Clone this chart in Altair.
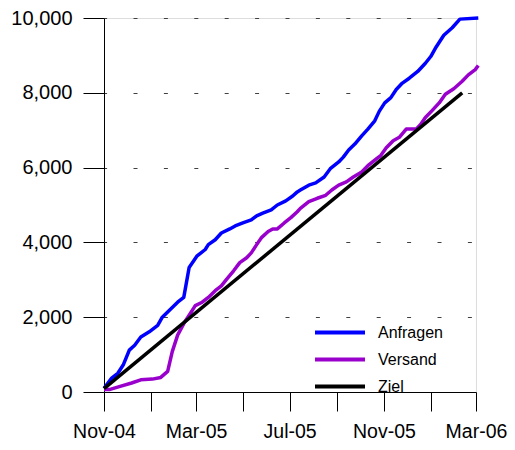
import altair as alt
import pandas as pd

# Day offsets from 1 Nov 2004 and cumulative counts
anfragen_days = [0, 10, 18, 25, 33, 40, 48, 59, 70, 76,
                 85, 96, 104, 111, 121, 132, 136, 145, 153, 164,
                 171, 181, 192, 199, 207, 218, 226, 237, 246, 252,
                 256, 267, 276, 287, 295, 306, 312, 319, 327, 336,
                 344, 353, 359, 366, 374, 381, 389, 398, 409, 419,
                 426, 432, 443, 454, 464, 488]
anfragen_vals = [100, 370, 500, 720, 1120, 1250, 1470, 1610, 1780, 2000,
                 2180, 2400, 2530, 3330, 3630, 3810, 3940, 4070, 4250, 4360,
                 4440, 4520, 4600, 4710, 4780, 4870, 5000, 5110, 5240, 5350,
                 5400, 5530, 5590, 5750, 5970, 6150, 6280, 6470, 6630, 6850,
                 7030, 7250, 7510, 7730, 7870, 8090, 8260, 8390, 8570, 8790,
                 8970, 9190, 9540, 9740, 9970, 10000]

versand_days = [0, 8, 21, 36, 48, 63, 74, 83, 89, 96,
                104, 111, 119, 128, 136, 145, 153, 160, 169, 177,
                186, 192, 199, 205, 214, 220, 226, 235, 244, 252,
                256, 267, 278, 289, 297, 306, 316, 325, 336, 344,
                353, 361, 368, 377, 385, 394, 407, 413, 419, 428,
                437, 445, 456, 467, 475, 484, 488]
versand_vals = [70, 70, 150, 240, 325, 345, 390, 550, 1080, 1520,
                1830, 2050, 2310, 2400, 2530, 2710, 2840, 3020, 3240, 3460,
                3590, 3720, 3940, 4120, 4290, 4360, 4360, 4520, 4670, 4820,
                4910, 5090, 5180, 5260, 5400, 5530, 5620, 5750, 5880, 6050,
                6200, 6330, 6530, 6720, 6810, 7030, 7030, 7160, 7340, 7530,
                7730, 7960, 8110, 8310, 8480, 8620, 8730]

ziel_days = [0, 467]
ziel_vals = [90, 8000]

series_names = ["Anfragen", "Versand", "Ziel"]
series_colors = ["#0000FF", "#9900CC", "#000000"]

start = pd.Timestamp("2004-11-01")


def frame(name, days, vals):
    dates = (start + pd.to_timedelta(days, unit="D")).strftime("%Y-%m-%d")
    return pd.DataFrame({"date": dates, "value": vals, "series": name})


df = pd.concat([
    frame("Anfragen", anfragen_days, anfragen_vals),
    frame("Versand", versand_days, versand_vals),
    frame("Ziel", ziel_days, ziel_vals),
], ignore_index=True)

tick_months = [(2004, 11), (2005, 1), (2005, 3), (2005, 5), (2005, 7),
               (2005, 9), (2005, 11), (2006, 1), (2006, 3)]
tick_values = [alt.DateTime(year=y, month=m, date=1, utc=True) for y, m in tick_months]

FONT = "Liberation Sans"

chart = alt.Chart(df).mark_line(strokeWidth=3.5, strokeJoin="round").encode(
    x=alt.X(
        "date:T",
        scale=alt.Scale(
            type="utc",
            domain=[alt.DateTime(year=2004, month=11, date=1, utc=True),
                    alt.DateTime(year=2006, month=3, date=1, utc=True)],
            nice=False,
        ),
        axis=alt.Axis(
            title=None, grid=False, values=tick_values,
            labelExpr="utcmonth(datum.value) % 4 == 2 ? utcFormat(datum.value, '%b-%y') : ''",
            tickSize=19, labelPadding=11.5, labelFontSize=19.5, labelFont=FONT,
            labelColor="black", domainColor="black", tickColor="black",
            labelOverlap=False, labelFlush=False,
        ),
    ),
    y=alt.Y(
        "value:Q",
        scale=alt.Scale(domain=[0, 10000], nice=False),
        axis=alt.Axis(
            title=None, values=[0, 2000, 4000, 6000, 8000, 10000], format=",d",
            grid=True, gridDash=[4, 26.4], gridDashOffset=1.4, gridColor="#404040",
            tickSize=21, labelPadding=11, labelFontSize=20, labelFont=FONT,
            labelColor="black", domainColor="black", tickColor="black",
        ),
    ),
    color=alt.Color(
        "series:N",
        scale=alt.Scale(domain=series_names, range=series_colors),
        legend=alt.Legend(
            title=None, orient="none", legendX=209, legendY=302,
            symbolType="stroke", symbolSize=2500, symbolStrokeWidth=4,
            labelFontSize=16, labelFont=FONT, labelColor="black",
            labelOffset=11, clipHeight=25, rowPadding=2, padding=0,
        ),
    ),
).properties(
    width=372,
    height=374,
    autosize=alt.AutoSizeParams(type="none"),
    padding={"left": 96, "top": 10, "right": 31, "bottom": 50},
).configure_view(strokeWidth=0).configure(background="white")

chart.save("out.html", embed_options={"renderer": "svg", "actions": False})
